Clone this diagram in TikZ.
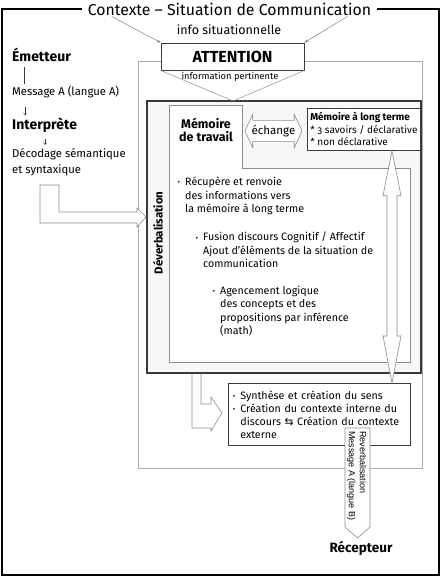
\documentclass[tikz,border=0pt]{standalone}
\usepackage{fontspec}
\setmainfont{Fira Sans}[Numbers=OldStyle]
\newfontfamily\arialfont{Liberation Sans}
\newfontfamily\symbfont{DejaVu Sans}
\usetikzlibrary{positioning,calc,shapes.arrows,arrows.meta}
\definecolor{framegray}{HTML}{ABABAB}
\definecolor{boxgray}{HTML}{3A3A3A}
\definecolor{linegray}{HTML}{8C8C8C}
\newcommand{\puce}{\makebox[8pt][l]{\raisebox{0.8pt}{\symbfont\fontsize{6}{6}\selectfont\char"2022}}}
\newcommand{\retrait}{\hspace*{8pt}}
\tikzset{
	diag/.style={x=1pt,y=-1pt,every node/.style={inner sep=0pt}},
	outer frame/.style={draw=black,line width=1.5pt},
	heading/.style={font=\fontsize{15.8}{18}\selectfont,inner xsep=6pt,inner ysep=1pt},
	situ/.style={font=\fontsize{12.5}{14}\selectfont},
	context/.style={draw=framegray,line width=0.8pt},
	attbox/.style={draw=boxgray,line width=0.8pt,fill=white,font=\fontsize{16}{18}\selectfont\bfseries},
	small/.style={font=\fontsize{9.3}{11}\selectfont},
	funnel/.style={draw=linegray,line width=0.5pt},
	thin arrow/.style={draw=gray,line width=0.5pt,-{Stealth[length=4pt,width=3pt]}},
	deverb/.style={draw=boxgray,line width=2pt,fill=gray!6},
	workarea/.style={draw=linegray,line width=0.6pt,fill=white},
	workttl/.style={font=\fontsize{12.5}{13}\selectfont\bfseries,align=center},
	deverbtitle/.style={font=\fontsize{11.5}{13}\selectfont\bfseries},
	textbox/.style={draw=boxgray,line width=0.7pt,fill=white,inner xsep=4pt,
		align=left,anchor=north west},
	bullets/.style={font=\fontsize{10.7}{13.3}\selectfont,align=left,anchor=north west},
	exchange/.style={double arrow,draw=linegray,line width=0.6pt,fill=white,
		double arrow head extend=6pt,double arrow tip angle=130,minimum height=57pt,
		inner xsep=1pt,inner ysep=4.5pt,font=\fontsize{11.5}{13}\selectfont},
	blockarrow/.style={draw=linegray,line width=0.6pt,fill=white},
	role/.style={font=\fontsize{14}{16}\selectfont\bfseries,anchor=west},
	plain/.style={font=\fontsize{11.3}{13.3}\selectfont,anchor=west},
	link/.style={draw=boxgray,line width=0.6pt},
	small arrow/.style={draw=boxgray,line width=0.5pt,-{Straight Barb[length=2pt,width=3pt]}},
	revtext/.style={font=\arialfont\fontsize{9}{11}\selectfont,align=left,rotate=-90,
		anchor=north west}
}

\begin{document}
\begin{tikzpicture}[diag]
	\useasboundingbox (0,0) rectangle (442,580);
	
	% cadre du contexte
	\node[heading] (title) at (229.5,9) {Contexte – Situation de Communication};
	\draw[outer frame] (title.west) -- (2,9) -- (2,575) -- (439,575) -- (439,9) -- (title.east);
	\node[situ] (info) at (229,30) {info situationnelle};
	\node[context,minimum width=284pt,minimum height=407pt] (ctx) at (280,264.5) {};
	
	% attention
	\node[attbox,minimum width=143pt,minimum height=27pt] (att) at (232.5,56.5) {ATTENTION};
	\draw[thin arrow] ([xshift=30pt]title.south west) -- (att.north west);
	\draw[thin arrow] ([xshift=-30pt]title.south east) -- (att.north east);
	
	% deverbalisation
	\node[deverb,minimum width=274pt,minimum height=272pt] (dev) at (284,237) {};
	\coordinate (focus) at (233,101);
	\draw[funnel] (att.south west) -- (focus) -- (att.south east);
	\node[small] (pert) at (230,77) {information pertinente};
	\draw[workarea] (169,105) -- (242,105) -- (242,168) -- (410,168) -- (410,362) -- (169,362) -- cycle;
	\node[workttl] (mt) at (206,129.5) {Mémoire\\de travail};
	\node[textbox,minimum width=110pt,minimum height=42pt,inner xsep=3pt,inner ysep=3pt,
		font=\fontsize{10}{12.5}\selectfont] (mlt) at (307,108)
		{{\bfseries Mémoire à long terme}\\{}* 3 savoirs / déclarative\\{}* non déclarative};
	\node[exchange] (xchg) at (273.5,131) {échange};
	\node[deverbtitle,rotate=90] (devttl) at (158,233) {Déverbalisation};
	
	\node[bullets] (recup) at (177,177) {\puce Récupère et renvoie\\\retrait des informations vers\\\retrait la mémoire à long terme};
	\node[bullets] (fusion) at (195,232) {\puce Fusion discours Cognitif / Affectif\\\retrait Ajout d'éléments de la situation de\\\retrait communication};
	\node[bullets] (agenc) at (212,286) {\puce Agencement logique\\\retrait des concepts et des\\\retrait propositions par inférence\\\retrait (math)};
	
	% synthese
	\node[textbox,text width=174pt,minimum height=62pt,inner ysep=3pt,
		font=\fontsize{10.7}{13}\selectfont] (synth) at (228,383)
		{\puce\mbox{Synthèse et création du sens}\\\puce\mbox{Création du contexte interne du}\\
		\retrait\mbox{discours {\symbfont ⇆} Création du contexte}\\\retrait externe};
	
	\coordinate (ltx) at (392,0);
	\draw[blockarrow] (mlt.south -| ltx) -- ++(9,45) -- ++(-4,0) -- ($(synth.north -| ltx)+(5,-47)$)
		-- ++(4,0) -- (synth.north -| ltx) -- ++(-9,-47) -- ++(4,0) -- ($(mlt.south -| ltx)+(-5,45)$)
		-- ++(-4,0) -- cycle;
	\draw[blockarrow] ([xshift=46pt]dev.south west) -- ++(0,54) -- ++(19,0) -- ++(0,3) -- ++(11,-18)
		-- ++(-11,-16) -- ++(0,7) -- ++(-10,0) -- ++(0,-30);
	
	% emetteur / interprete
	\node[role] (emet) at (12,55) {Émetteur};
	\node[plain] (msgA) at (12,92) {Message A (langue A)};
	\node[role] (interp) at (12,125) {Interprète};
	\node[plain,anchor=north west,align=left] (decod) at (12,148) {Décodage sémantique\\[2.7pt]et syntaxique};
	\draw[link,shorten <=5pt,shorten >=2pt] (emet.south -| 24,0) -- (msgA.north -| 24,0);
	\draw[small arrow,shorten <=9pt,shorten >=2pt] (msgA.south -| 25,0) -- (interp.north -| 25,0);
	\draw[small arrow,shorten <=6pt,shorten >=3pt] (interp.south -| 45,0) -- (decod.north -| 45,0);
	\draw[blockarrow] (dev.west |- 0,217) -- ++(-9,10) -- ++(0,-4) -- ++(-97,0) -- ++(0,-38) -- ++(19,0)
		-- ++(0,27) -- ++(78,0) -- ++(0,-4) -- cycle;
	
	% recepteur
	\node[role,anchor=center,font=\fontsize{13.5}{16}\selectfont\bfseries] (recep) at (361,548) {Récepteur};
	\coordinate (revtip) at (357.5,538);
	\draw[blockarrow] (revtip) -- ++(12.5,-11) -- ++(0,-99) -- ++(-25,0) -- ++(0,99) -- cycle;
	\node[revtext] (rev) at (366.5,431) {Reverbalisation\\Message A (langue B)};
\end{tikzpicture}
\end{document}
